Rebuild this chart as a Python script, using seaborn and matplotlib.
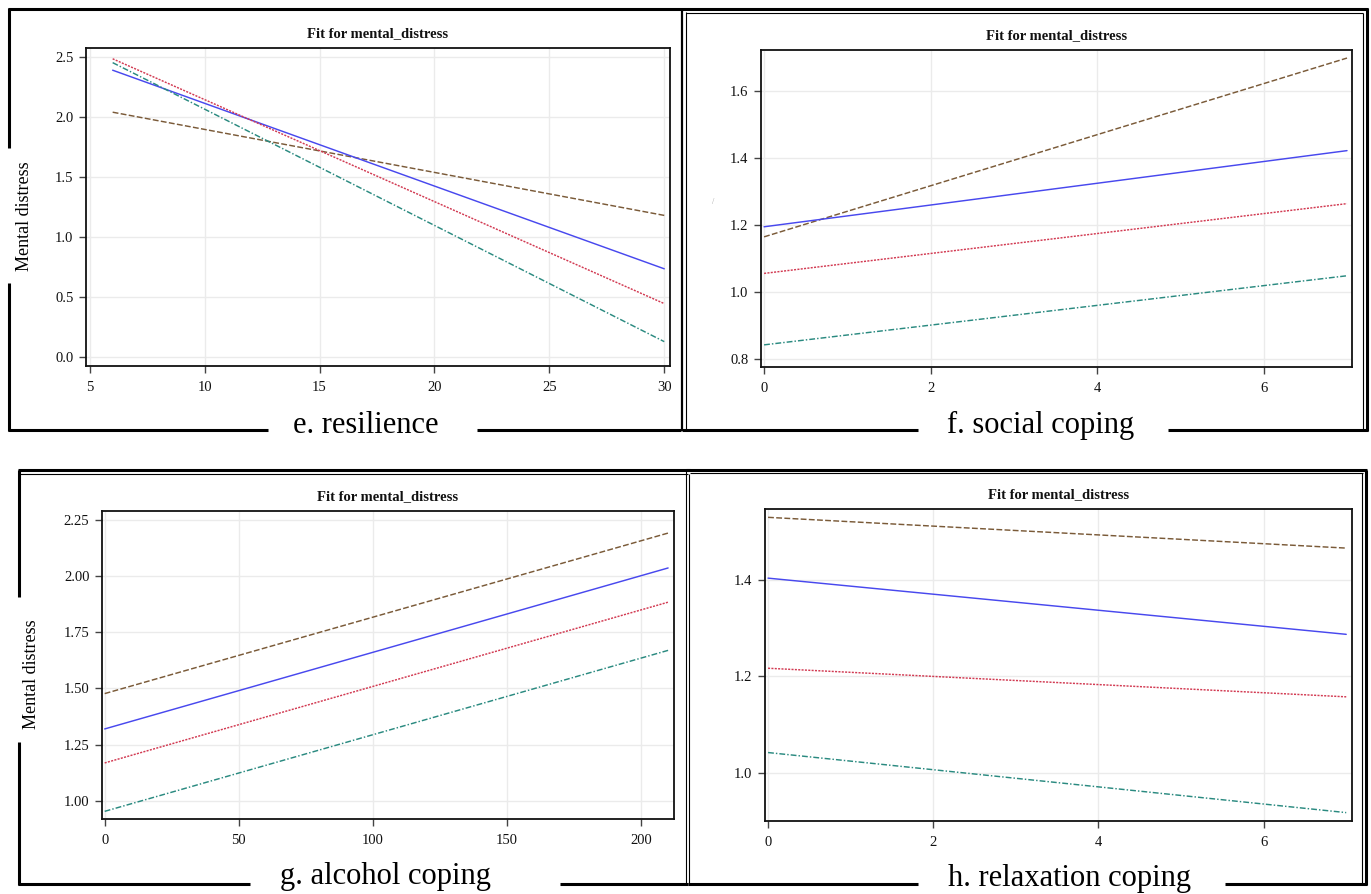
import numpy as np
import pandas as pd
import matplotlib
matplotlib.use("Agg")
import matplotlib.pyplot as plt
import seaborn as sns
from matplotlib.lines import Line2D

# ---------------- data ----------------
groups = ["Group 1", "Group 2", "Group 3", "Group 4"]  # brown dashed, blue solid, red dotted, teal dash-dot

resilience_x = [6, 30]
resilience_g1 = [2.04, 1.18]
resilience_g2 = [2.39, 0.735]
resilience_g3 = [2.485, 0.445]
resilience_g4 = [2.453, 0.128]

social_x = [0, 7]
social_g1 = [1.165, 1.698]
social_g2 = [1.195, 1.422]
social_g3 = [1.056, 1.264]
social_g4 = [0.843, 1.049]

alcohol_x = [0, 210]
alcohol_g1 = [1.477, 2.19]
alcohol_g2 = [1.32, 2.035]
alcohol_g3 = [1.169, 1.883]
alcohol_g4 = [0.954, 1.669]

relax_x = [0, 7]
relax_g1 = [1.5285, 1.465]
relax_g2 = [1.403, 1.287]
relax_g3 = [1.217, 1.158]
relax_g4 = [1.043, 0.919]

resilience_xticks = [5, 10, 15, 20, 25, 30]
resilience_yticks = [0.0, 0.5, 1.0, 1.5, 2.0, 2.5]
social_xticks = [0, 2, 4, 6]
social_yticks = [0.8, 1.0, 1.2, 1.4, 1.6]
alcohol_xticks = [0, 50, 100, 150, 200]
alcohol_yticks = [1.00, 1.25, 1.50, 1.75, 2.00, 2.25]
relax_xticks = [0, 2, 4, 6]
relax_yticks = [1.0, 1.2, 1.4]

panel_labels = ["e. resilience", "f. social coping", "g. alcohol coping", "h. relaxation coping"]
title_text = "Fit for mental_distress"
ylabel_text = "Mental distress"

# ---------------- style ----------------
sns.set_style("whitegrid")
plt.rcParams["font.family"] = ["Liberation Serif", "DejaVu Serif"]

W, H = 1371, 894
fig = plt.figure(figsize=(W / 100, H / 100), dpi=100)
fig.patch.set_facecolor("white")

palette = {"Group 1": "#7a5a38", "Group 2": "#4848ee", "Group 3": "#d23a52", "Group 4": "#2a8a80"}
dashes = {"Group 1": (4, 1.6), "Group 2": "", "Group 3": (1.4, 0.9), "Group 4": (4, 1.4, 1, 1.4)}


def rect(l, r, t, b):
    return [l / W, 1 - b / H, (r - l) / W, (b - t) / H]


def make_df(x, ys):
    rows = []
    for g, y in zip(groups, ys):
        for xi, yi in zip(x, y):
            rows.append({"x": xi, "y": yi, "group": g})
    return pd.DataFrame(rows)


def panel(r, x, ys, xlim, ylim, xticks, yticks, yfmt):
    ax = fig.add_axes(rect(*r))
    df = make_df(x, ys)
    sns.lineplot(data=df, x="x", y="y", hue="group", style="group",
                 palette=palette, dashes=dashes, linewidth=1.05,
                 legend=False, ax=ax, estimator=None, sort=True)
    ax.set_xlim(*xlim)
    ax.set_ylim(*ylim)
    ax.set_xticks(xticks)
    ax.set_xticklabels([str(t) for t in xticks])
    ax.set_yticks(yticks)
    ax.set_yticklabels([yfmt.format(t) for t in yticks])
    ax.set_xlabel("")
    ax.set_ylabel("")
    ax.grid(True, color="#ebebeb", linewidth=1.0)
    for s in ax.spines.values():
        s.set_color("#111111")
        s.set_linewidth(1.3)
        s.set_visible(True)
    ax.tick_params(axis="both", direction="out", length=5, width=1.0, color="#444444",
                   labelsize=10.5, labelcolor="#111111")
    ax.tick_params(axis="x", pad=6)
    ax.tick_params(axis="y", pad=4)
    ax.tick_params(axis="both", bottom=True, left=True)
    ax.set_title(title_text, fontsize=10.5, fontweight="bold", pad=8, color="#111111")
    return ax


panel((86, 670, 48, 366), resilience_x,
      [resilience_g1, resilience_g2, resilience_g3, resilience_g4],
      (4.84, 30.25), (-0.075, 2.575), resilience_xticks, resilience_yticks, "{:.1f}")
panel((761, 1352, 50, 367), social_x,
      [social_g1, social_g2, social_g3, social_g4],
      (-0.037, 7.06), (0.777, 1.722), social_xticks, social_yticks, "{:.1f}")
panel((102, 674, 511, 819), alcohol_x,
      [alcohol_g1, alcohol_g2, alcohol_g3, alcohol_g4],
      (-1.0, 212.2), (0.92, 2.288), alcohol_xticks, alcohol_yticks, "{:.2f}")
panel((765, 1352, 509, 821), relax_x,
      [relax_g1, relax_g2, relax_g3, relax_g4],
      (-0.037, 7.07), (0.9017, 1.5457), relax_xticks, relax_yticks, "{:.1f}")

# ---------------- frames (decoration) ----------------
def seg(x0, y0, x1, y1, lw=2.2):
    fig.add_artist(Line2D([x0 / W, x1 / W], [1 - y0 / H, 1 - y1 / H],
                          transform=fig.transFigure, color="black", linewidth=lw,
                          solid_capstyle="butt"))

# top-left
seg(8, 9, 682, 9)
seg(9, 8, 9, 148)
seg(9, 283, 9, 431)
seg(8, 430, 268, 430)
seg(477, 430, 681, 430)
# top-right
seg(682, 8, 682, 431, 1.6)
seg(686, 12, 686, 430, 0.8)
seg(682, 9, 1368, 9)
seg(686, 13, 1363, 13, 0.8)
seg(1367, 8, 1367, 431)
seg(1363, 13, 1363, 430, 0.8)
seg(682, 430, 918, 430)
seg(1168, 430, 1368, 430)
# bottom-left
seg(18, 470, 690, 470)
seg(18, 474, 688, 474, 0.8)
seg(19, 470, 19, 597)
seg(19, 742, 19, 885)
seg(18, 884, 250, 884)
seg(560, 884, 688, 884)
seg(686, 470, 686, 885, 0.8)
seg(689, 474, 689, 885, 0.8)
# bottom-right
seg(686, 470, 1367, 470)
seg(690, 473, 1363, 473, 0.8)
seg(1366, 470, 1366, 885)
seg(1362, 473, 1362, 884, 0.8)
seg(688, 884, 918, 884)
seg(1225, 884, 1367, 884)

# ---------------- texts ----------------
def ftext(x, y, s, **kw):
    fig.text(x / W, 1 - y / H, s, **kw)

label_pos = [(366, 433), (1041, 433), (386, 884), (1070, 886)]
for (lx, ly), s in zip(label_pos, panel_labels):
    ftext(lx, ly, s, ha="center", va="baseline", fontsize=22, color="black")

ftext(25, 216, ylabel_text, rotation=90, ha="center", va="center", fontsize=13, color="black")
ftext(31, 674, ylabel_text, rotation=90, ha="center", va="center", fontsize=13, color="black")
ftext(713, 202, "/", ha="center", va="center", fontsize=6, color="#aaaaaa")

fig.savefig("out.png", dpi=100, facecolor="white")
